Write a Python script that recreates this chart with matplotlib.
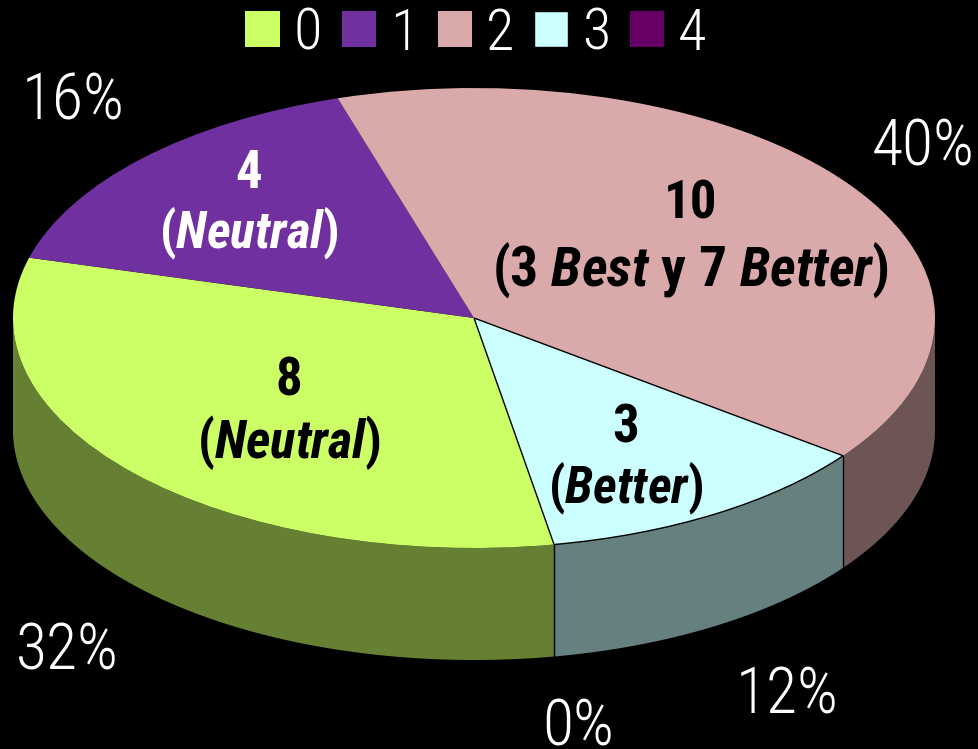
"""Exploded-looking 3D pie on black: top face from ax.pie, side walls filled below it."""
import matplotlib
matplotlib.use('Agg')
import matplotlib.pyplot as plt
import numpy as np
from matplotlib.colors import to_rgb

W, H = 979, 749

# Chart data
CATEGORIES = ['0', '1', '2', '3', '4']
VALUES = [8, 4, 10, 3, 0]
COLORS = ['#ccff66', '#7030a0', '#daaaaa', '#ccffff', '#660066']
PERCENTS = ['32%', '16%', '40%', '12%', '0%']
SLICE_COUNTS = ['8', '4', '10', '3']
SLICE_NOTES = [r'($\mathit{Neutral}$)', r'($\mathit{Neutral}$)',
               r'(3 $\mathit{Best}$ y 7 $\mathit{Better}$)', r'($\mathit{Better}$)']
NOTE_COLORS = ['black', 'white', 'black', 'black']

# Layout in reference pixels (percent labels by baseline)
CX, CY, RX, RY = 474, 318, 461, 230
DEPTH = 112 / RY
START_ANGLE = -80
PCT_POS = [(67, 670), (73, 120), (923, 165), (787, 713), (578, 745)]
COUNT_POS = [(289, 381), (249, 174), (691, 204), (626, 428)]
NOTE_POS = [(289, 443), (249, 233), (690, 270), (626, 488)]
NOTE_SIZES = [38, 37, 40, 37]

FONT = 'Roboto Condensed'
plt.rcParams['font.family'] = [FONT, 'Archivo Narrow', 'Liberation Sans', 'DejaVu Sans']
plt.rcParams['font.weight'] = 300
plt.rcParams['mathtext.fontset'] = 'custom'
plt.rcParams['mathtext.it'] = f'{FONT}:italic:bold'
plt.rcParams['mathtext.rm'] = f'{FONT}:bold'


def fx(x):
    return x / W


def fy(y):
    return 1 - y / H


fig = plt.figure(figsize=(W / 100, H / 100), dpi=100, facecolor='black')
ax = fig.add_axes([0, 0, 1, 1])

# top face, clockwise from the green slice
wedges, _ = ax.pie(VALUES, colors=COLORS, startangle=START_ANGLE, counterclock=False,
                   radius=1, center=(0, 0), wedgeprops={'linewidth': 0, 'zorder': 3})
# pie forces equal aspect, we want the flattened ellipse
ax.set_aspect('auto')
ax.set_xlim(-CX / RX, (W - CX) / RX)
ax.set_ylim(-(H - CY) / RY, CY / RY)
ax.axis('off')

# side walls, only the front half of the rim shows
edges = START_ANGLE - np.cumsum([0] + VALUES) / sum(VALUES) * 360
for i, col in enumerate(COLORS):
    a0, a1 = edges[i], edges[i + 1]
    # also try the same slice one turn up, the rim runs over -180..0
    for shift in (0, 360):
        hi = min(a0 + shift, 0)
        lo = max(a1 + shift, -180)
        if hi <= lo:
            continue
        t = np.radians(np.linspace(hi, lo, 200))
        xs = np.cos(t)
        ys = np.sin(t)
        ax.fill(np.r_[xs, xs[::-1]], np.r_[ys, ys[::-1] - DEPTH],
                color=tuple(c * 0.5 for c in to_rgb(col)), lw=0, zorder=1)

# the cyan slice is the only one outlined in the reference
wedges[3].set_edgecolor('black')
wedges[3].set_linewidth(1.0)
wedges[3].set_zorder(4)
for a in (edges[3], edges[4]):
    x, y = np.cos(np.radians(a)), np.sin(np.radians(a))
    ax.plot([x, x], [y, y - DEPTH], color='black', lw=1.0, zorder=2)

handles = wedges
leg = fig.legend(handles, CATEGORIES, ncol=5, loc='center', frameon=False,
                 bbox_to_anchor=(fx(476), fy(34)), fontsize=42, labelcolor='white',
                 handlelength=0.59, handleheight=0.59, handletextpad=0.24,
                 columnspacing=0.33, borderpad=0, borderaxespad=0)

for txt, (x, y) in zip(PERCENTS, PCT_POS):
    fig.text(fx(x), fy(y), txt, color='white', fontsize=46, ha='center', va='baseline')

for txt, note, col, size, (x, y), (nx, ny) in zip(SLICE_COUNTS, SLICE_NOTES, NOTE_COLORS,
                                                  NOTE_SIZES, COUNT_POS, NOTE_POS):
    fig.text(fx(x), fy(y), txt, color=col, fontsize=38, fontweight='bold',
             ha='center', va='center', zorder=6)
    fig.text(fx(nx), fy(ny), note, color=col, fontsize=size, fontweight='bold',
             ha='center', va='center', zorder=6)

fig.savefig('out.png', dpi=100, facecolor='black')
